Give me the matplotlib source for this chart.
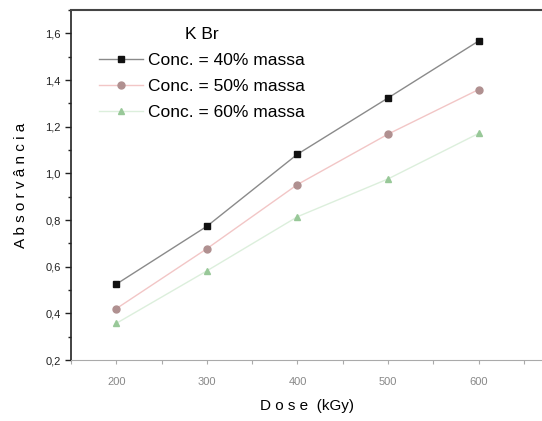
import numpy as np
import matplotlib
matplotlib.use("Agg")
import matplotlib.pyplot as plt
from matplotlib.ticker import MultipleLocator, FuncFormatter

plt.rcParams.update({"font.family": "Liberation Sans"})

dose = [200, 300, 400, 500, 600]
abs_40 = [0.525, 0.773, 1.082, 1.323, 1.567]
abs_50 = [0.420, 0.677, 0.952, 1.168, 1.359]
abs_60 = [0.357, 0.582, 0.814, 0.976, 1.171]
labels = ["Conc. = 40% massa", "Conc. = 50% massa", "Conc. = 60% massa"]

fig = plt.figure(figsize=(5.42, 4.21), dpi=100)
ax = fig.add_axes([71 / 542, 61 / 421, 1 - 71 / 542, 350 / 421])

ax.plot(dose, abs_40, "-s", color="#8a8a8a", lw=1.0, ms=5,
        mfc="#111111", mec="#111111", label=labels[0])
ax.plot(dose, abs_50, "-o", color="#f2c6c6", lw=1.0, ms=5,
        mfc="#b09090", mec="#b09090", label=labels[1])
ax.plot(dose, abs_60, "-^", color="#dcefdc", lw=1.0, ms=5,
        mfc="#98c898", mec="#98c898", label=labels[2])

ax.set_xlim(150, 670)
ax.set_ylim(0.2, 1.7)
ax.xaxis.set_major_locator(MultipleLocator(100))
ax.xaxis.set_minor_locator(MultipleLocator(50))
ax.yaxis.set_major_locator(MultipleLocator(0.2))
ax.yaxis.set_minor_locator(MultipleLocator(0.1))
ax.yaxis.set_major_formatter(FuncFormatter(lambda v, p: f"{v:.1f}".replace(".", ",")))

ax.spines["right"].set_visible(False)
ax.spines["top"].set_color("#444444")
ax.spines["top"].set_linewidth(1.5)
ax.spines["left"].set_color("#222222")
ax.spines["left"].set_linewidth(1.2)
ax.spines["bottom"].set_color("#aaaaaa")
ax.spines["bottom"].set_linewidth(0.8)

ax.tick_params(axis="y", which="major", length=4, width=1, labelsize=8, colors="#222222")
ax.tick_params(axis="y", which="minor", length=2, width=1, colors="#222222")
ax.tick_params(axis="x", which="both", length=3, width=0.8, colors="#aaaaaa",
               labelsize=8, labelcolor="#888888", pad=9)

ax.set_ylabel("A b s o r v â n c i a", fontsize=11, labelpad=12)
ax.set_xlabel("D o s e  (kGy)", fontsize=11, labelpad=9)

leg = ax.legend(loc="upper left", bbox_to_anchor=(0.025, 0.998), frameon=False,
                title="K Br", fontsize=12.5, title_fontsize=12.5,
                handlelength=2.5, handletextpad=0.3, labelspacing=0.62,
                borderaxespad=0.55)

fig.savefig("out.png", dpi=100, facecolor="white")
